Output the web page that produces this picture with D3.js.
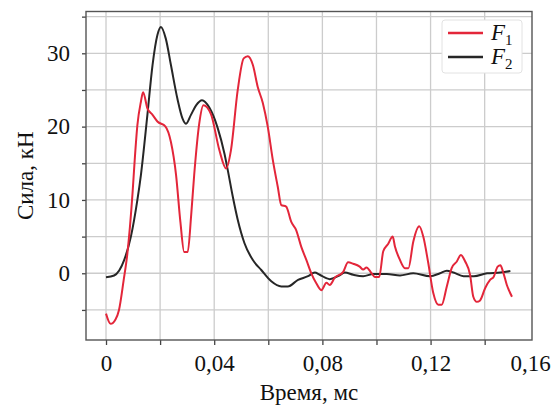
<!DOCTYPE html>
<html>
<head>
<meta charset="utf-8">
<script src="https://cdn.jsdelivr.net/npm/d3@7"></script>
<style>
  body { margin: 0; background: #fff; }
  svg { display: block; }
  svg text { font-family: "Liberation Serif", Tinos, "Times New Roman", Times, "DejaVu Serif", serif; fill: #111; }
</style>
</head>
<body>
<svg></svg>
<script>
// Chart data
const t1 = [0, 0.0017, 0.0035, 0.0048, 0.0065, 0.0079, 0.0098, 0.0106, 0.0116, 0.0129,
  0.0137, 0.0153, 0.0172, 0.019, 0.022, 0.024, 0.0259, 0.0275, 0.0289, 0.0302,
  0.0315, 0.0326, 0.0345, 0.036, 0.0388, 0.0419, 0.0444, 0.0462, 0.0487, 0.0509,
  0.0524, 0.0543, 0.0561, 0.058, 0.0598, 0.0617, 0.0635, 0.0648, 0.0666, 0.0685,
  0.0703, 0.0722, 0.0741, 0.0759, 0.0778, 0.0796, 0.0815, 0.0827, 0.0846, 0.0877,
  0.0895, 0.0914, 0.0938, 0.0951, 0.0963, 0.0982, 0.0994, 0.101, 0.1025, 0.1043,
  0.106, 0.1068, 0.1087, 0.1105, 0.1118, 0.1136, 0.1158, 0.1173, 0.1191, 0.121,
  0.1229, 0.1241, 0.126, 0.1278, 0.1297, 0.1312, 0.1328, 0.1346, 0.1358, 0.1371,
  0.1383, 0.1402, 0.142, 0.1433, 0.1448, 0.1458, 0.1468, 0.1482, 0.1501];
const f1 = [-5.5, -6.9, -6.3, -5.0, -1.0, 2.7, 10.9, 15.4, 20.2, 23.4,
  24.7, 22.5, 21.6, 20.7, 20.0, 17.9, 13.4, 7.0, 2.9, 2.9,
  8.0, 13.4, 20.5, 22.9, 21.7, 16.8, 14.3, 16.8, 25.0, 29.3,
  29.6, 28.4, 25.4, 23.2, 20.0, 15.4, 11.8, 9.3, 9.1, 7.0,
  5.9, 3.6, 1.8, 0, -1.4, -2.3, -1.3, -1.6, -0.6, 0.2,
  1.5, 1.3, 0.9, 0.5, 0.8, 0, -0.5, -0.5, 3.0, 4.0,
  5.0, 3.7, 1.8, 0.7, 0.7, 4.3, 6.4, 5.0, 1.5, -2.7,
  -4.3, -4.3, -1.8, 0.7, 1.6, 2.5, 1.6, -0.2, -3.2, -3.9,
  -3.7, -2.0, -0.9, -0.5, 0.9, 1.1, 0.2, -1.6, -3.2];

const t2 = [0, 0.003, 0.0067, 0.0092, 0.0116, 0.0129, 0.0153, 0.0172, 0.019, 0.0203,
  0.0221, 0.024, 0.0264, 0.0283, 0.0296, 0.0314, 0.0333, 0.0355, 0.0382, 0.0413,
  0.0438, 0.045, 0.0469, 0.0487, 0.0512, 0.0543, 0.0574, 0.0611, 0.0648, 0.0672,
  0.071, 0.0747, 0.0772, 0.079, 0.0827, 0.0858, 0.0883, 0.0914, 0.0951, 0.0988,
  0.1038, 0.1087, 0.1136, 0.1198, 0.1235, 0.126, 0.1285, 0.1322, 0.136, 0.1409,
  0.1458, 0.1495];
const f2 = [-0.55, -0.3, 1.8, 5.0, 10.0, 13.4, 21.6, 28.4, 32.5, 33.6,
  32.0, 28.4, 23.8, 21.1, 20.4, 21.6, 22.9, 23.6, 22.6, 19.8,
  16.3, 14.1, 10.4, 7.3, 4.1, 1.8, 0.45, -1.1, -1.8, -1.8,
  -0.9, -0.4, 0.1, -0.2, -0.8, -0.4, 0.1, -0.2, -0.4, -0.1,
  -0.1, -0.3, 0, -0.4, 0, 0.35, 0.1, -0.4, -0.4, 0,
  0.1, 0.3];

const xTicks = [0, 0.02, 0.04, 0.06, 0.08, 0.1, 0.12, 0.14];
const xLabels = [0, 0.04, 0.08, 0.12, 0.16];
const yTicks = [-5, 0, 5, 10, 15, 20, 25, 30, 35];
const yLabels = [0, 10, 20, 30];
const seriesNames = ['1', '2'];
const seriesColors = ['#e3263a', '#262626'];

const serif = '"Liberation Serif", Tinos, "Times New Roman", Times, "DejaVu Serif", serif';

const width = 555, height = 405;
const margin = { top: 11.5, right: 23, bottom: 65, left: 86 };
const w = width - margin.left - margin.right;
const h = height - margin.top - margin.bottom;

const svg = d3.select('svg')
    .attr('width', width)
    .attr('height', height)
    .attr('font-family', serif);

const g = svg.append('g')
    .attr('transform', `translate(${margin.left},${margin.top})`);

const x = d3.scaleLinear().domain([-0.0074, 0.1575]).range([0, w]);
const y = d3.scaleLinear().domain([-9.1, 35.7]).range([h, 0]);

const fmt = v => String(+v.toFixed(2)).replace('.', ',');

// Grid
g.append('g').selectAll('line')
    .data(xTicks)
    .enter().append('line')
    .attr('x1', d => x(d)).attr('x2', d => x(d))
    .attr('y1', 0).attr('y2', h)
    .attr('stroke', '#cccccc').attr('stroke-width', 1.3);

g.append('g').selectAll('line')
    .data(yTicks)
    .enter().append('line')
    .attr('x1', 0).attr('x2', w)
    .attr('y1', d => y(d)).attr('y2', d => y(d))
    .attr('stroke', '#cccccc').attr('stroke-width', 1.3);

// Axes
const xAxis = g.append('g')
    .attr('transform', `translate(0,${h})`)
    .call(d3.axisBottom(x).tickValues(xTicks).tickSize(5).tickPadding(10)
        .tickFormat(d => xLabels.includes(d) ? fmt(d) : ''));

const yAxis = g.append('g')
    .call(d3.axisLeft(y).tickValues(yTicks).tickSize(4).tickPadding(12)
        .tickFormat(d => yLabels.includes(d) ? d : ''));

[xAxis, yAxis].forEach(a => {
    a.attr('font-family', serif).attr('font-size', 23);
    a.select('.domain').remove();
    a.selectAll('line').attr('stroke', '#444').attr('stroke-width', 1.3);
    a.selectAll('text').style('font-size', '23px')
        .style('font-family', serif).attr('fill', '#111');
});

// last label sits past the frame edge, pull it back in view
xAxis.append('text')
    .attr('x', x(0.16) + 12)
    .attr('y', 15)
    .attr('dy', '0.71em')
    .attr('text-anchor', 'end')
    .attr('fill', '#111')
    .style('font-size', '23px')
    .style('font-family', serif)
    .text(fmt(0.16));

// Frame
g.append('rect')
    .attr('width', w).attr('height', h)
    .attr('fill', 'none')
    .attr('stroke', '#555').attr('stroke-width', 1.4);

// Lines
const line = d3.line()
    .x(d => x(d[0]))
    .y(d => y(d[1]))
    .curve(d3.curveMonotoneX);

const series = [d3.zip(t1, f1), d3.zip(t2, f2)];

// draw F2 first so the red curve sits on top
[1, 0].forEach(i => {
    g.append('path')
        .datum(series[i])
        .attr('d', line)
        .attr('fill', 'none')
        .attr('stroke', seriesColors[i])
        .attr('stroke-width', 2)
        .attr('stroke-linejoin', 'round');
});

// Legend
const legend = g.append('g')
    .attr('transform', `translate(${w - 90},${8.5})`);

legend.append('rect')
    .attr('width', 80).attr('height', 53)
    .attr('rx', 3)
    .attr('fill', '#fff')
    .attr('stroke', '#e2e2e2');

seriesNames.forEach((name, i) => {
    const row = legend.append('g').attr('transform', `translate(0,${13 + i * 24})`);
    row.append('line')
        .attr('x1', 6).attr('x2', 41)
        .attr('stroke', seriesColors[i]).attr('stroke-width', 2.5);
    const label = row.append('text')
        .attr('x', 49).attr('y', 7)
        .style('font-size', '23px')
        .style('font-family', serif);
    label.append('tspan').style('font-style', 'italic').text('F');
    label.append('tspan').attr('dy', 5).style('font-size', '15px').text(name);
});

// Axis titles
svg.append('text')
    .attr('transform', `translate(33,${margin.top + h / 2}) rotate(-90)`)
    .attr('text-anchor', 'middle')
    .style('font-size', '23px')
    .style('font-family', serif)
    .text('Сила, кН');

svg.append('text')
    .attr('x', margin.left + w / 2)
    .attr('y', 400)
    .attr('text-anchor', 'middle')
    .style('font-size', '23px')
    .style('font-family', serif)
    .text('Время, мс');
</script>
</body>
</html>
